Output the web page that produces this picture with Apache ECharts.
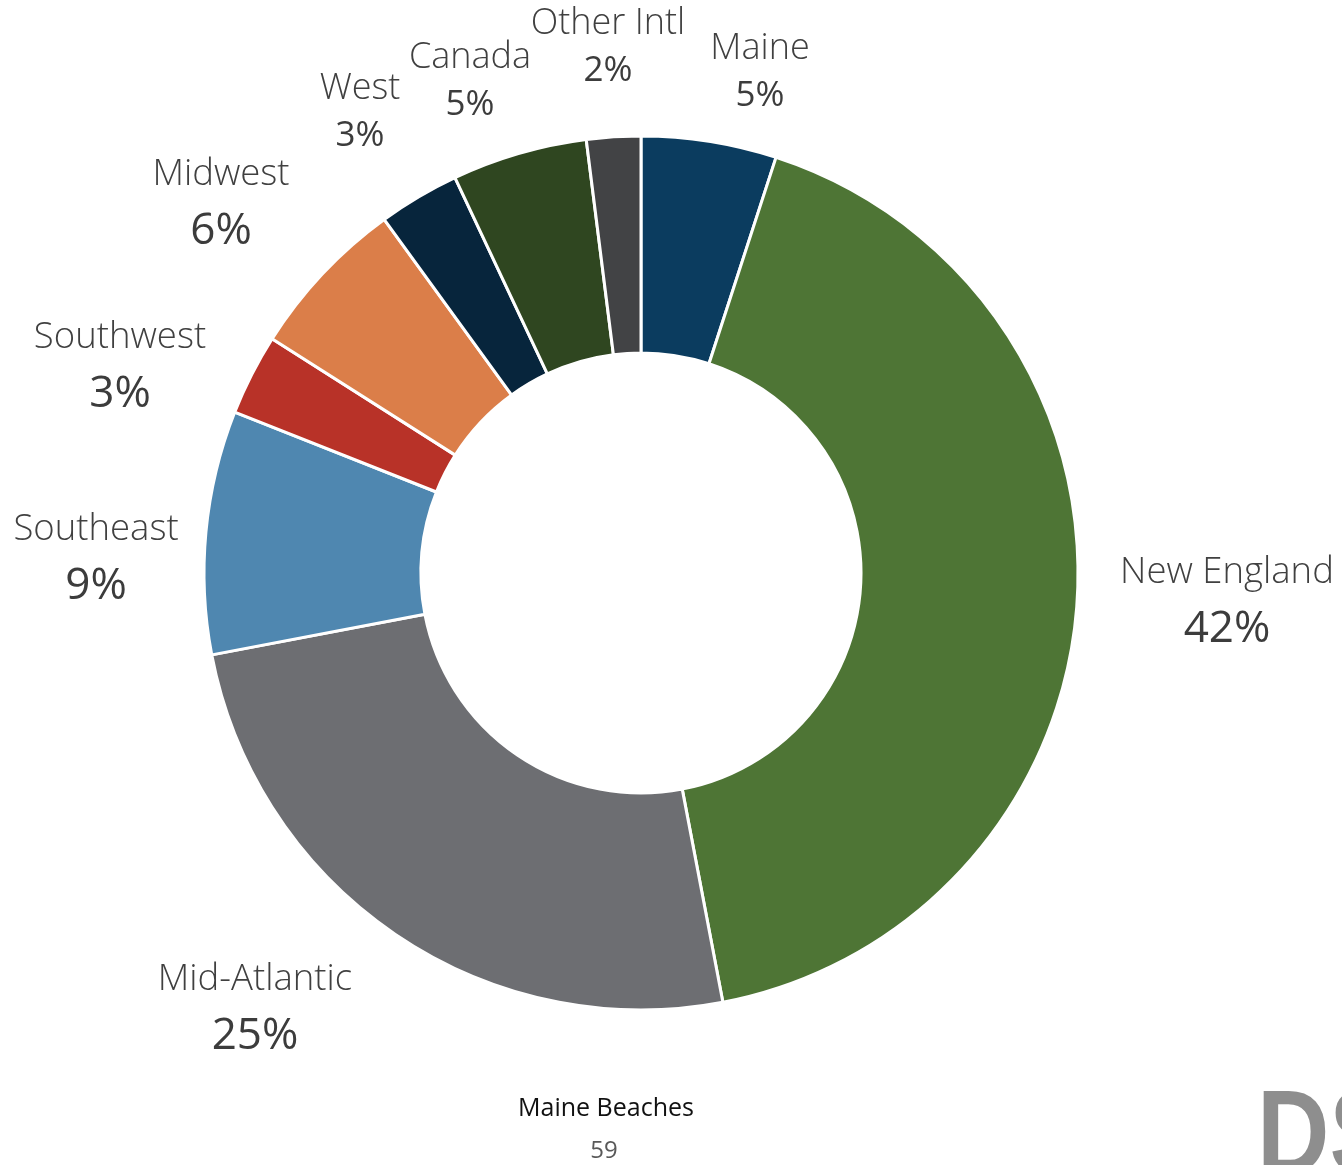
<!DOCTYPE html>
<html>
<head>
<meta charset="utf-8">
<script src="https://cdn.jsdelivr.net/npm/echarts@6/dist/echarts.min.js"></script>
<style>
html,body{margin:0;padding:0;background:#fff;}
#chart{width:1342px;height:1165px;}
</style>
</head>
<body>
<div id="chart"></div>
<script>
const categories = ['Maine', 'New England', 'Mid-Atlantic', 'Southeast', 'Southwest', 'Midwest', 'West', 'Canada', 'Other Intl'];
const shares = [5, 42, 25, 9, 3, 6, 3, 5, 2];
const colors = ['#0b3c5f', '#4e7535', '#6d6e72', '#4f87b0', '#b83228', '#db7e49', '#07253c', '#2f4620', '#424345'];
const titleText = 'Maine Beaches';
const pageNumber = '59';

// layout (label centres relative to the pie centre), kept separate from the data
const CX = 641, CY = 573;
const labelOffsets = [[119,-500],[586,31],[-386,438],[-545,-12],[-521,-204],[-420,-367],[-281,-460],[-171,-491],[-33,-525]];
const smallLabels = ['Maine', 'West', 'Canada', 'Other Intl'];

const chart = echarts.init(document.getElementById('chart'), null, {renderer: 'canvas'});
const FONT = '"Open Sans", "Noto Sans", sans-serif';

chart.setOption({
  animation: false,
  backgroundColor: '#ffffff',
  series: [{
    type: 'pie',
    center: [CX, CY],
    radius: [220, 437],
    startAngle: 90,
    clockwise: true,
    avoidLabelOverlap: false,
    itemStyle: {borderColor: '#ffffff', borderWidth: 3},
    data: categories.map((c, i) => ({name: c, value: shares[i], itemStyle: {color: colors[i]}})),
    label: {
      show: true,
      position: 'outside',
      fontFamily: FONT,
      formatter: p => smallLabels.includes(p.name)
        ? '{ns|' + p.name + '}\n{ps|' + p.value + '%}'
        : '{n|' + p.name + '}\n{p|' + p.value + '%}',
      rich: {
        n:  {fontFamily: FONT, fontSize: 36.5, fontWeight: 300, color: '#404040', lineHeight: 50, align: 'center'},
        p:  {fontFamily: FONT, fontSize: 44, fontWeight: 500, color: '#3c3c3c', lineHeight: 62, align: 'center'},
        ns: {fontFamily: FONT, fontSize: 36, fontWeight: 300, color: '#404040', lineHeight: 46, align: 'center'},
        ps: {fontFamily: FONT, fontSize: 35, fontWeight: 500, color: '#3c3c3c', lineHeight: 48, align: 'center'}
      }
    },
    labelLine: {show: false},
    labelLayout: function (params) {
      const o = labelOffsets[params.dataIndex];
      return {x: CX + o[0], y: CY + o[1], align: 'center', verticalAlign: 'middle'};
    }
  }],
  graphic: [
    {type: 'text', x: 606, y: 1109, style: {text: titleText, fontFamily: FONT, fontSize: 25, fill: '#111111', align: 'center', verticalAlign: 'middle'}},
    {type: 'text', x: 604, y: 1151, style: {text: pageNumber, fontFamily: FONT, fontSize: 24, fill: '#595959', align: 'center', verticalAlign: 'middle'}},
    {type: 'text', x: 1257, y: 1081, scaleX: 0.85, style: {text: 'DS', fontFamily: '"Liberation Sans", Arial, sans-serif', fontWeight: 'bold', fontSize: 118, fill: '#8e8e8e'}}
  ]
});
</script>
</body>
</html>
